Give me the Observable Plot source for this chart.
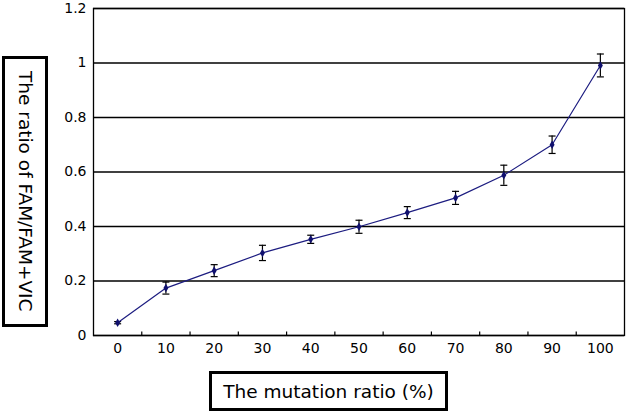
<!DOCTYPE html>
<html>
<head>
<meta charset="utf-8">
<script src="https://cdn.jsdelivr.net/npm/d3@7"></script>
<script src="https://cdn.jsdelivr.net/npm/@observablehq/plot@0.6"></script>
<style>
  html, body { margin: 0; padding: 0; background: #fff; }
  #wrap { position: relative; width: 626px; height: 414px; font-family: "DejaVu Sans", Verdana, sans-serif; }
  #chart { position: absolute; left: 0; top: 0; }
  .box { position: absolute; border: 3px solid #000; background: #fff; color: #000;
         font-size: 18.5px; display: flex; align-items: center; justify-content: center; box-sizing: border-box; white-space: nowrap; }
  #ylab { left: 2px; top: 56px; width: 46px; height: 271px; writing-mode: vertical-rl; }
  #xlab { left: 209px; top: 371px; width: 239px; height: 40px; }
</style>
</head>
<body>
<div id="wrap">
  <div id="chart"></div>
  <div class="box" id="ylab">The ratio of FAM/FAM+VIC</div>
  <div class="box" id="xlab">The mutation ratio (%)</div>
</div>
<script>
// Data
const mutation = [0, 10, 20, 30, 40, 50, 60, 70, 80, 90, 100];
const ratio    = [0.047, 0.174, 0.238, 0.303, 0.353, 0.399, 0.451, 0.505, 0.588, 0.700, 0.991];
const errors   = [0.004, 0.022, 0.022, 0.028, 0.015, 0.024, 0.022, 0.024, 0.037, 0.032, 0.042];
const yTicks   = [0, 0.2, 0.4, 0.6, 0.8, 1, 1.2];
const yTickLabels = ["0", "0.2", "0.4", "0.6", "0.8", "1", "1.2"];

const data = mutation.map((m, i) => ({x: m, y: ratio[i], lo: ratio[i] - errors[i], hi: ratio[i] + errors[i]}));
// category boundaries (Excel-style ticks between categories)
const boundaries = mutation.slice(0, -1).map((m, i) => (m + mutation[i + 1]) / 2);

const capSymbol = { draw(ctx) { ctx.moveTo(-3.5, 0); ctx.lineTo(3.5, 0); } };
const tickSymbol = { draw(ctx) { ctx.moveTo(0, 0); ctx.lineTo(0, -4); } };

const step = mutation[1] - mutation[0];
const chart = Plot.plot({
  width: 626,
  height: 414,
  marginLeft: 93,
  marginRight: 2,
  marginTop: 8,
  marginBottom: 79,
  style: { fontFamily: "'DejaVu Sans', Verdana, sans-serif", fontSize: "14px", color: "#000", background: "transparent" },
  x: { domain: [mutation[0] - step / 2, mutation[mutation.length - 1] + step / 2] },
  y: { domain: [yTicks[0], yTicks[yTicks.length - 1]] },
  marks: [
    Plot.ruleY(yTicks, { stroke: "#000", strokeWidth: 1.3 }),
    Plot.frame({ stroke: "#000", strokeWidth: 1.3 }),
    Plot.dot(boundaries, { x: d => d, y: () => 0, symbol: tickSymbol, stroke: "#000", strokeWidth: 1.2, fill: "none" }),
    Plot.axisY({ ticks: yTicks, tickSize: 0, tickPadding: 7, tickFormat: d => yTickLabels[yTicks.indexOf(d)], label: null, fontSize: 14 }),
    Plot.axisX({ ticks: mutation, tickSize: 0, tickPadding: 8, tickFormat: d => String(d), label: null, fontSize: 14 }),
    Plot.ruleX(data, { x: "x", y1: "lo", y2: "hi", stroke: "#000", strokeWidth: 1.2 }),
    Plot.dot(data, { x: "x", y: "lo", symbol: capSymbol, stroke: "#000", strokeWidth: 1.2, fill: "none" }),
    Plot.dot(data, { x: "x", y: "hi", symbol: capSymbol, stroke: "#000", strokeWidth: 1.2, fill: "none" }),
    Plot.line(data, { x: "x", y: "y", stroke: "#1c1c80", strokeWidth: 1.2 }),
    Plot.dot(data, { x: "x", y: "y", symbol: "diamond", r: 2.6, fill: "#10106e", stroke: "none" })
  ]
});
document.getElementById("chart").append(chart);
</script>
</body>
</html>
